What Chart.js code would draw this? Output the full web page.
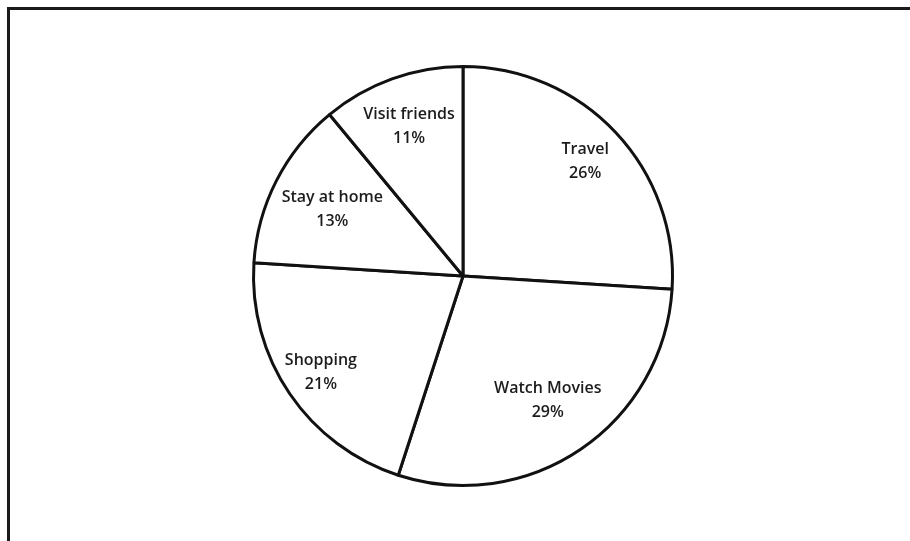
<!DOCTYPE html>
<html>
<head>
<meta charset="utf-8">
<script src="https://cdn.jsdelivr.net/npm/chart.js@4"></script>
<style>
  html, body { margin: 0; padding: 0; background: #fff; }
  #wrap { position: relative; width: 910px; height: 541px; overflow: hidden; }
  #frame {
    position: absolute; left: 7px; top: 7px; width: 930px; height: 560px;
    border-top: 3px solid #1a1a1a; border-left: 3px solid #1a1a1a;
  }
  #chart { position: absolute; left: 0; top: 0; }
</style>
</head>
<body>
<div id="wrap">
  <div id="frame"></div>
  <canvas id="chart" width="910" height="541"></canvas>
</div>
<script>
// Dados do gráfico
const categories = ['Travel', 'Watch Movies', 'Shopping', 'Stay at home', 'Visit friends'];
const shares = [26, 29, 21, 13, 11];

// distância dos rótulos ao centro (fração do raio), só estilo
const labelRadius = [0.80, 0.72, 0.82, 0.70, 0.76];

const sliceLabels = {
    id: 'sliceLabels',
    afterDatasetsDraw(chart) {
        const ctx = chart.ctx;
        const meta = chart.getDatasetMeta(0);
        ctx.save();
        ctx.fillStyle = '#1c1c1c';
        ctx.font = '600 16px "Open Sans"';
        ctx.textAlign = 'center';
        ctx.textBaseline = 'middle';
        meta.data.forEach((arc, i) => {
            const p = arc.getProps(['x', 'y', 'startAngle', 'endAngle', 'outerRadius'], true);
            const mid = (p.startAngle + p.endAngle) / 2;
            const r = p.outerRadius * labelRadius[i];
            const x = p.x + Math.cos(mid) * r;
            const y = p.y + Math.sin(mid) * r;
            ctx.fillText(categories[i], x, y - 12);
            ctx.fillText(shares[i] + '%', x, y + 12);
        });
        ctx.restore();
    }
};

const chart = new Chart(document.getElementById('chart').getContext('2d'), {
    type: 'pie',
    data: {
        labels: categories,
        datasets: [{
            data: shares,
            backgroundColor: '#ffffff',
            borderColor: '#111111',
            borderWidth: 3,
            borderAlign: 'center'
        }]
    },
    options: {
        responsive: false,
        animation: false,
        layout: { padding: { left: 252, right: 236, top: 65, bottom: 54 } },
        plugins: {
            legend: { display: false },
            tooltip: { enabled: false }
        }
    },
    plugins: [sliceLabels]
});
</script>
</body>
</html>
